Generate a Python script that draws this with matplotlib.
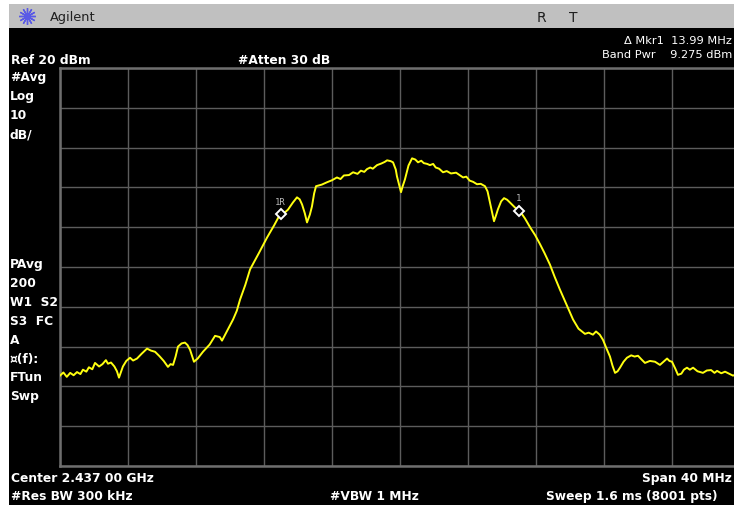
import numpy as np
import matplotlib.pyplot as plt
from matplotlib.patches import Rectangle
from matplotlib.lines import Line2D

W, H = 734, 506

# trace: offset from centre frequency (MHz) and level (dBm), 10 points per row
freq_mhz = [
    -20.0, -19.8, -19.6, -19.4, -19.2, -19.0, -18.8, -18.65, -18.45, -18.3,
    -18.1, -17.94, -17.7, -17.5, -17.3, -17.18, -17.0, -16.8, -16.65, -16.53,
    -16.3, -16.1, -15.88, -15.7, -15.47, -15.2, -14.88, -14.65, -14.41, -14.15,
    -13.9, -13.65, -13.5, -13.35, -13.2, -13.06, -12.85, -12.65, -12.5, -12.35,
    -12.12, -11.9, -11.59, -11.2, -10.88, -10.6, -10.47, -10.2, -9.82, -9.6,
    -9.41, -9.1, -8.82, -8.3, -7.82, -7.4, -7.06, -6.8, -6.59, -6.3,
    -6.06, -5.9, -5.76, -5.6, -5.47, -5.3, -5.18, -5.05, -4.94, -4.6,
    -4.29, -4.0, -3.71, -3.5, -3.3, -3.0, -2.76, -2.5, -2.3, -2.1,
    -1.94, -1.75, -1.6, -1.35, -1.1, -0.9, -0.76, -0.55, -0.41, -0.25,
    -0.18, 0.06, 0.15, 0.29, 0.5, 0.71, 0.9, 1.06, 1.25, 1.4,
    1.6, 1.76, 1.95, 2.1, 2.3, 2.53, 2.75, 3.0, 3.3, 3.71,
    3.9, 4.1, 4.3, 4.53, 4.75, 5.0, 5.15, 5.29, 5.4, 5.53,
    5.65, 5.76, 5.95, 6.12, 6.3, 6.47, 6.75, 7.06, 7.35, 7.65,
    7.95, 8.24, 8.5, 8.82, 9.1, 9.41, 9.8, 10.18, 10.5, 10.88,
    11.1, 11.35, 11.53, 11.75, 11.94, 12.15, 12.35, 12.5, 12.65, 12.8,
    12.94, 13.15, 13.35, 13.6, 13.8, 14.0, 14.2, 14.41, 14.7, 15.0,
    15.15, 15.29, 15.5, 15.71, 15.85, 16.0, 16.2, 16.35, 16.55, 16.7,
    16.88, 17.05, 17.24, 17.5, 17.82, 18.05, 18.3, 18.5, 18.65, 18.9,
    19.12, 19.35, 19.59, 19.8, 20.0,
]
level_dbm = [
    -57.3, -56.5, -57.6, -56.6, -57.2, -56.4, -56.9, -55.8, -56.3, -55.2,
    -55.7, -54.1, -55.0, -54.4, -53.4, -54.3, -54.0, -55.0, -56.2, -57.8,
    -55.0, -53.6, -52.8, -53.5, -53.0, -51.8, -50.5, -51.0, -51.3, -52.4,
    -53.6, -55.1, -54.4, -54.6, -52.5, -50.0, -49.2, -49.0, -49.6, -50.8,
    -53.8, -53.0, -51.3, -49.5, -47.3, -47.6, -48.5, -46.3, -43.2, -41.0,
    -38.2, -34.5, -30.6, -26.5, -22.6, -19.5, -16.8, -16.4, -15.6, -13.8,
    -12.5, -13.0, -14.3, -16.5, -18.8, -16.8, -14.8, -11.5, -9.7, -9.3,
    -8.7, -8.2, -7.5, -7.9, -7.0, -6.9, -6.2, -6.6, -5.8, -6.1,
    -5.4, -5.0, -5.3, -4.4, -4.0, -3.6, -3.2, -3.4, -3.7, -5.5,
    -7.2, -11.2, -9.8, -8.0, -4.5, -2.7, -3.0, -3.7, -3.3, -3.9,
    -4.1, -4.4, -4.1, -5.0, -5.3, -6.2, -5.9, -6.5, -6.3, -7.5,
    -7.3, -8.3, -8.6, -9.2, -9.1, -9.7, -11.0, -13.8, -16.0, -18.5,
    -17.0, -15.5, -13.5, -12.7, -13.1, -13.8, -15.0, -16.0, -17.8, -20.0,
    -22.0, -24.3, -26.5, -29.4, -32.5, -35.7, -39.5, -43.2, -45.5, -46.8,
    -46.5, -47.0, -46.2, -47.0, -48.3, -50.5, -52.5, -54.8, -56.6, -56.2,
    -55.3, -53.8, -52.8, -52.2, -52.5, -52.3, -53.2, -54.1, -53.6, -53.8,
    -54.2, -54.6, -53.8, -53.0, -53.6, -53.8, -55.6, -57.1, -56.8, -55.8,
    -55.3, -55.8, -55.3, -56.2, -56.6, -56.0, -55.9, -56.6, -56.1, -56.7,
    -56.3, -56.8, -57.3, -56.9, -57.0,
]

marker_freqs = [-6.99, 7.0]
marker_names = ["1R", "1"]

left_labels_top = ["#Avg", "Log", "10", "dB/"]
left_labels_bottom = ["PAvg", "200", "W1  S2", "S3  FC", "A", "\u00a4(f):", "FTun", "Swp"]


def fx(x):
    return x / W


def fy(y):
    return 1 - y / H


fig = plt.figure(figsize=(W / 100, H / 100), dpi=100, facecolor="white")

# instrument frame (behind the graticule axes)
fig.patches.append(Rectangle((fx(9), 0), 1, fy(29), transform=fig.transFigure,
                             facecolor="black", edgecolor="none", zorder=-2))
fig.patches.append(Rectangle((fx(9), fy(29)), 1, (29 - 5) / H, transform=fig.transFigure,
                             facecolor="#c0c0c0", edgecolor="none", zorder=-2))

# agilent spark
fig.add_artist(Line2D([fx(27)], [fy(17)], marker=(12, 2, 0), markersize=12,
                      color="#5a5ae6", mew=1.0, transform=fig.transFigure))
fig.text(fx(50), fy(17), "Agilent", color="#202020", fontsize=9.3, va="center", ha="left")
fig.text(fx(537), fy(18), "R", color="#202020", fontsize=10, va="center", ha="left")
fig.text(fx(569), fy(18), "T", color="#202020", fontsize=10, va="center", ha="left")

# header readouts
fig.text(fx(732), fy(41), "\u0394 Mkr1  13.99 MHz", color="white", fontsize=8.2,
         va="center", ha="right")
fig.text(fx(11), fy(60), "Ref 20 dBm", color="white", fontsize=8.8, fontweight="bold",
         va="center", ha="left")
fig.text(fx(238), fy(60), "#Atten 30 dB", color="white", fontsize=8.8, fontweight="bold",
         va="center", ha="left")
fig.text(fx(732), fy(55), "Band Pwr    9.275 dBm", color="white", fontsize=8.2,
         va="center", ha="right")

# left annotation column
for i, s in enumerate(left_labels_top):
    fig.text(fx(10), fy(77 + 19.2 * i), s, color="white", fontsize=8.8,
             fontweight="bold", va="center", ha="left")
for i, s in enumerate(left_labels_bottom):
    fig.text(fx(10), fy(265 + 18.8 * i), s, color="white", fontsize=8.8,
             fontweight="bold", va="center", ha="left")

# footer readouts
fig.text(fx(11), fy(479), "Center 2.437 00 GHz", color="white", fontsize=8.8,
         fontweight="bold", va="center", ha="left")
fig.text(fx(732), fy(479), "Span 40 MHz", color="white", fontsize=8.8,
         fontweight="bold", va="center", ha="right")
fig.text(fx(11), fy(497), "#Res BW 300 kHz", color="white", fontsize=8.8,
         fontweight="bold", va="center", ha="left")
fig.text(fx(330), fy(497), "#VBW 1 MHz", color="white", fontsize=8.8,
         fontweight="bold", va="center", ha="left")
fig.text(fx(717), fy(497), "Sweep 1.6 ms (8001 pts)", color="white", fontsize=8.8,
         fontweight="bold", va="center", ha="right")

# graticule: 10 x 10 divisions, right edge runs past the frame
ax = fig.add_axes([fx(60), fy(467), (740 - 60) / W, (467 - 69) / H])
ax.set_facecolor("black")
ax.set_xlim(-20, 20)
ax.set_ylim(-80, 20)
ax.set_xticks(np.arange(-20, 21, 4))
ax.set_yticks(np.arange(-80, 21, 10))
ax.grid(True, color="#5c5c5c", linewidth=1.0)
ax.tick_params(length=0, labelbottom=False, labelleft=False)
for sp in ax.spines.values():
    sp.set_color("#6e6e6e")
    sp.set_linewidth(1.8)

ax.plot(freq_mhz, level_dbm, color="#ffff10", linewidth=1.4, zorder=3)

# band power markers
for f, name in zip(marker_freqs, marker_names):
    lv = np.interp(f, freq_mhz, level_dbm)
    ax.plot([f], [lv], marker="D", markersize=5.5, markerfacecolor="black",
            markeredgecolor="white", markeredgewidth=1.4, zorder=4)
    ax.annotate(name, (f, lv), xytext=(-1 if name == "1R" else 0, 6),
                textcoords="offset points", color="#b8b8b8", fontsize=6.5,
                family="DejaVu Sans Mono", ha="center", va="bottom")

fig.savefig("out.png", dpi=100, facecolor="white")
